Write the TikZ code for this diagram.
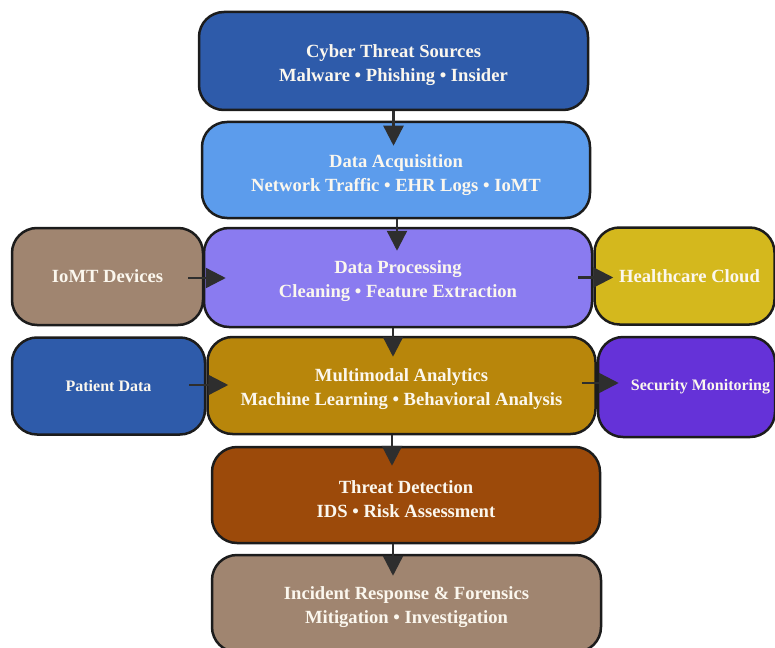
\documentclass[tikz,border=0pt]{standalone}
\usepackage{fontspec}
\setmainfont{Liberation Serif}
\usetikzlibrary{arrows.meta,calc}

\definecolor{edge}{HTML}{1C1C1C}
\definecolor{arrowc}{HTML}{2E2E2E}
\definecolor{ink}{HTML}{FBF7EE}
\definecolor{navy}{HTML}{2E5BAA}
\definecolor{sky}{HTML}{5C9CEC}
\definecolor{lavender}{HTML}{8A7BF0}
\definecolor{taupe}{HTML}{A08570}
\definecolor{mustard}{HTML}{D4B81D}
\definecolor{goldenrod}{HTML}{B8860B}
\definecolor{violet}{HTML}{6532D8}
\definecolor{rust}{HTML}{9C4A0A}

\begin{document}
\begin{tikzpicture}[x=1pt,y=-1pt,
  blk/.style={draw=edge, line width=2.5pt, rounded corners=25pt, inner sep=0pt},
  main/.style={blk, minimum width=388pt, minimum height=97pt},
  side/.style={blk, minimum width=193pt, minimum height=97pt},
  txt/.style={text=ink, align=center, font=\bfseries\fontsize{18.6}{24}\selectfont},
  small/.style={text=ink, align=center, font=\bfseries\fontsize{16}{20}\selectfont},
  arr/.style={draw=arrowc, line width=2.4pt, -{Triangle[length=20pt,width=20pt]}}]

\useasboundingbox (0,0) rectangle (775,647);

% central pipeline
\node[main, fill=navy, minimum width=389pt, minimum height=98pt,
  label={[txt, yshift=-4pt]center:{Cyber Threat Sources\\Malware • Phishing • Insider}}]
  (b1) at (393.5,61) {};
\node[main, fill=sky, minimum height=96pt,
  label={[txt, yshift=-5pt]center:{Data Acquisition\\Network Traffic • EHR Logs • IoMT}}]
  (b2) at (396,170) {};
\node[main, fill=lavender, minimum height=99pt,
  label={[txt, yshift=-4pt]center:{Data Processing\\Cleaning • Feature Extraction}}]
  (b3) at (398,277.5) {};
\node[main, fill=goldenrod,
  label={[txt, yshift=-4pt]center:{Multimodal Analytics\\Machine Learning • Behavioral Analysis}}]
  (b4) at (401.5,385.5) {};
\node[main, fill=rust, minimum height=96pt,
  label={[txt, yshift=-4pt]center:{Threat Detection\\IDS • Risk Assessment}}]
  (b5) at (406,495) {};
\node[main, fill=taupe, minimum width=389pt,
  label={[txt, yshift=-4pt]center:{Incident Response \& Forensics\\Mitigation • Investigation}}]
  (b6) at (406.5,603.5) {};

% side inputs
\node[side, fill=taupe, minimum width=191pt, label={[txt]center:IoMT Devices}]
  (iot) at (107.5,276.5) {};
\node[side, fill=navy, label={[small]center:Patient Data}]
  (pat) at (108.5,386) {};

% side outputs
\node[side, fill=mustard, minimum width=180pt, label={[txt, xshift=5pt]center:Healthcare Cloud}]
  (cloud) at (684.5,276) {};
\node[side, fill=violet, minimum width=177pt, minimum height=100pt,
  label={[small, xshift=14pt]center:Security Monitoring}]
  (sec) at (686.5,387) {};

% vertical flow
\draw[arr] (b1.south) -- ($(b1.south |- b2.north)+(0,25)$);
\draw[arr] ([xshift=1pt]b2.south) -- ($(b2.south |- b3.north)+(1,24)$);
\draw[arr] ([xshift=-5pt]b3.south) -- ($(b3.south |- b4.north)+(-5,21)$);
\draw[arr] ([xshift=-9.5pt]b4.south) -- ($(b4.south |- b5.north)+(-9.5,20)$);
\draw[arr] ([xshift=-13pt]b5.south) -- ($(b5.south |- b6.north)+(-13,22)$);

% horizontal flow
\draw[arr] ([xshift=-16pt,yshift=-1.5pt]iot.east) -- ($(iot.east -| b3.west)+(23,1.5)$);
\draw[arr] ([xshift=-17pt,yshift=1pt]pat.east) -- ($(pat.east -| b4.west)+(22,-1)$);
\draw[arr] ([xshift=-15pt]b3.east) -- ($(b3.east -| cloud.west)+(20,0)$);
\draw[arr] ([xshift=-15pt,yshift=2.5pt]b4.east) -- ($(b4.east -| sec.west)+(22,-2.5)$);
\end{tikzpicture}
\end{document}
